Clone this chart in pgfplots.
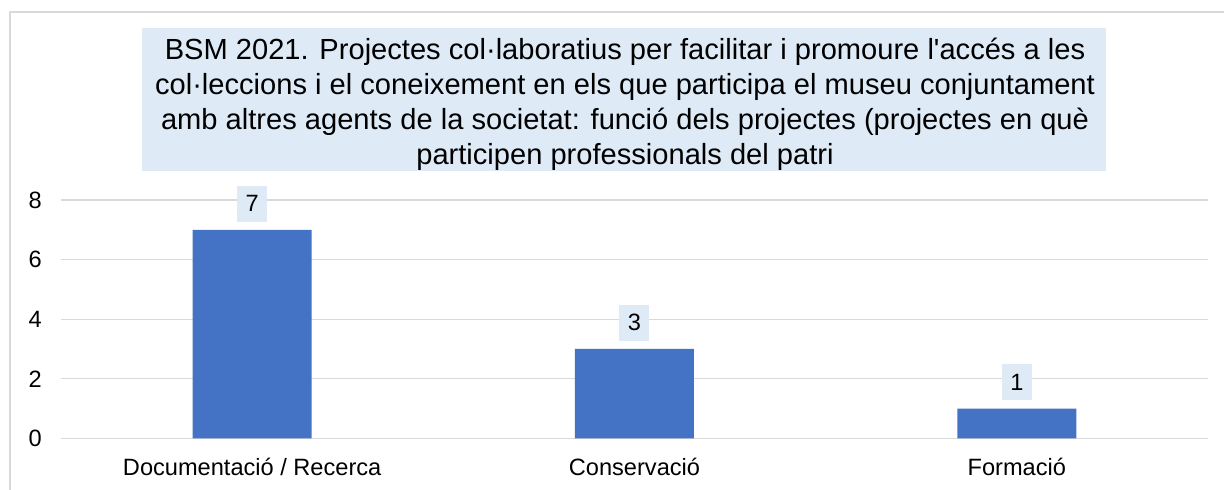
\documentclass[border=0pt]{standalone}
\usepackage{pgfplots}
\pgfplotsset{compat=1.18}
\usepackage{fontspec}
\setmainfont{Liberation Sans}
\definecolor{barblue}{HTML}{4472C4}
\definecolor{lblfill}{HTML}{DEEBF7}
\definecolor{gridgray}{HTML}{D9D9D9}
\begin{document}
\begin{tikzpicture}
\useasboundingbox (0,0) rectangle (1224bp,490bp);
\clip (0,0) rectangle (1224bp,490bp);
\fill[white] (0,0) rectangle (1224bp,490bp);
\draw[gridgray, line width=1.3bp] (10bp,-20bp) rectangle (1250bp,478bp);
\fill[lblfill] (142bp,319bp) rectangle (1106bp,462bp);
\begin{scope}[every node/.style={font=\fontsize{29.1bp}{35bp}\selectfont, anchor=base, inner sep=0pt}]
\node at (625bp,430bp) {BSM 2021. Projectes col·laboratius per facilitar i promoure l\textquotesingle accés a les};
\node at (625bp,395bp) {col·leccions i el coneixement en els que participa el museu conjuntament};
\node at (625bp,360bp) {amb altres agents de la societat: funció dels projectes (projectes en què};
\node at (625bp,325bp) {participen professionals del patri};
\end{scope}
\begin{axis}[
  at={(61bp,51.7bp)}, anchor=south west,
  scale only axis, width=1147bp, height=238.3bp,
  xmin=-0.5, xmax=2.5, ymin=0, ymax=8,
  ytick={0,2,4,6,8},
  xtick={0,1,2},
  xticklabels={Documentació / Recerca, Conservació, Formació},
  axis line style={draw=none},
  major tick length=0pt,
  ymajorgrids,
  grid style={gridgray, line width=1.3bp},
  /pgf/number format/assume math mode=true,
  ticklabel style={font=\fontsize{23.6bp}{28bp}\selectfont, inner sep=0pt},
  yticklabel style={anchor=base east, xshift=-19bp, yshift=-8.4bp},
  xticklabel style={anchor=base, yshift=-37.5bp},
  ybar, bar width=119bp, bar shift=0pt,
  nodes near coords,
  every node near coord/.append style={font=\fontsize{23.6bp}{28bp}\selectfont, fill=lblfill, minimum width=30bp, minimum height=36bp, inner sep=0pt, anchor=south, yshift=8bp},
  clip=false,
]
\addplot[fill=barblue, draw=none] coordinates {(0,7) (1,3) (2,1)};
\end{axis}
\end{tikzpicture}
\end{document}
